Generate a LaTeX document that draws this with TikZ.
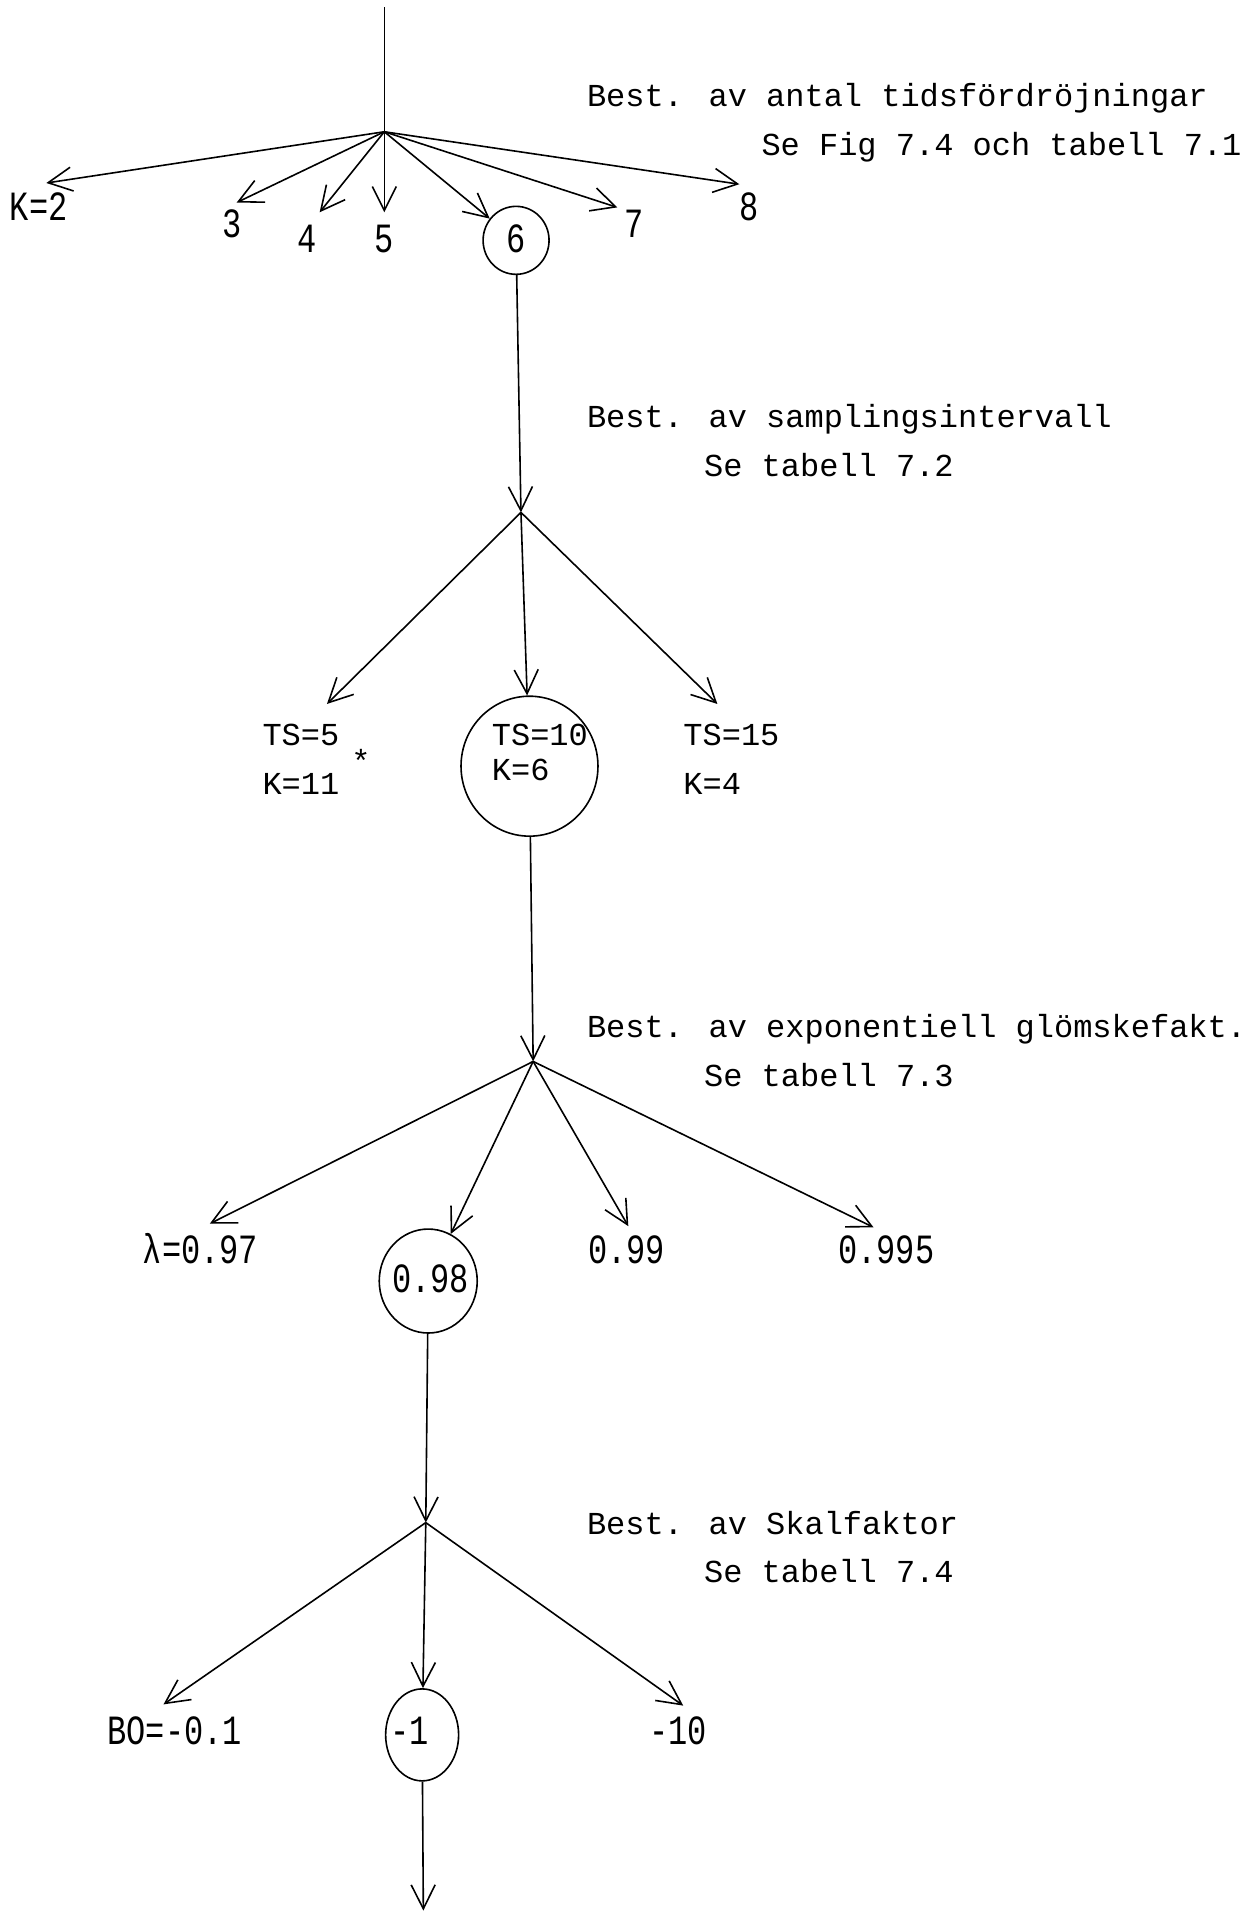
\documentclass[tikz,border=0pt]{standalone}
\usepackage{fontspec}
\usepackage{graphicx}
\newfontfamily\tw{Liberation Mono}
\newcommand\lab{\tw\fontsize{32}{38}\selectfont}
\newcommand\tl[1]{\scalebox{1}[1.3]{#1}}
\usetikzlibrary{arrows.meta,shapes.geometric}
\begin{document}
\begin{tikzpicture}[x=1.2204pt,y=-1.2204pt,
  lbl/.style={font=\lab, inner sep=0pt, anchor=west, text height=18pt, text depth=0pt},
  tlbl/.style={font=\lab, inner sep=0pt, anchor=west, text height=23.8pt, text depth=0pt},
  arr/.style={-{Straight Barb[length=24pt,width=24pt,line width=1.6pt]}, line width=1.6pt},
  wire/.style={line width=1.6pt},
  ring/.style={draw, ellipse, line width=1.6pt, inner sep=0pt}]
\useasboundingbox[fill=white] (0,0) rectangle (1021,1568);

% ---------- level 1 ----------
\coordinate (top) at (315,6);
\coordinate (h1) at (315,108);
\node[ring, minimum width=66pt, minimum height=68pt] (c6) at (423,197) {};
\node[tlbl, anchor=center] (n6) at (423,197) {\tl{6}};
\coordinate (a2) at (38,150);
\coordinate (a3) at (194,166);
\coordinate (a4) at (262,174);
\coordinate (a5) at (315,174);
\coordinate (a7) at (506,170);
\coordinate (a8) at (606,151);
\node[tlbl] (tK2) at (8,171) {\tl{K=2}};
\node[tlbl, anchor=center] (t3) at (190,185) {\tl{3}};
\node[tlbl, anchor=center] (t4) at (252,197) {\tl{4}};
\node[tlbl, anchor=center] (t5) at (315,197) {\tl{5}};
\node[tlbl, anchor=center] (t7) at (520,185) {\tl{7}};
\node[tlbl, anchor=center] (t8) at (614,171) {\tl{8}};
\node[lbl] (b1) at (481,80) {Best. av antal tidsfördröjningar};
\node[lbl] (s1) at (624,120) {Se Fig 7.4 och tabell 7.1};
\draw[wire] (top) -- (h1);
\foreach \t in {a2,a3,a4,a5,a7,a8} \draw[arr] (h1) -- (\t);
\draw[arr] (h1) -- (c6);

% ---------- level 2 ----------
\coordinate (h2) at (427,420);
\node[ring, minimum width=137pt, minimum height=140pt] (c10) at (434,628) {};
\node[lbl] (n10a) at (403,604) {TS=10};
\node[lbl] (n10b) at (403,632) {K=6};
\coordinate (b5) at (268,577);
\coordinate (b15) at (588,577);
\node[lbl] (ts5) at (215,604) {TS=5};
\node[lbl] (k11) at (215,644) {K=11\hspace{12pt}\raisebox{22pt}{*}};
\node[lbl] (ts15) at (560,604) {TS=15};
\node[lbl] (k4) at (560,644) {K=4};
\node[lbl] (b2) at (481,343) {Best. av samplingsintervall};
\node[lbl] (s2) at (577,383) {Se tabell 7.2};
\draw[arr] (c6) -- (h2);
\draw[arr] (h2) -- (b5);
\draw[arr] (h2) -- (b15);
\draw[arr] (h2) -- (c10);

% ---------- level 3 ----------
\coordinate (h3) at (437,870);
\node[ring, minimum width=98pt, minimum height=104pt] (c98) at (351,1050) {};
\node[tlbl, anchor=center] (n98) at (353,1050) {\tl{0.98}};
\coordinate (d97) at (172,1003);
\coordinate (d99) at (515,1005);
\coordinate (d995) at (716,1006);
\node[tlbl] (l97) at (117,1026) {\tl{λ=0.97}};
\node[tlbl] (l99) at (482,1026) {\tl{0.99}};
\node[tlbl] (l995) at (687,1026) {\tl{0.995}};
\node[lbl] (b3) at (481,843) {Best. av exponentiell glömskefakt.};
\node[lbl] (s3) at (577,883) {Se tabell 7.3};
\draw[arr] (c10) -- (h3);
\draw[arr] (h3) -- (d97);
\draw[arr] (h3) -- (d99);
\draw[arr] (h3) -- (d995);
\draw[arr] (h3) -- (c98);

% ---------- level 4 ----------
\coordinate (h4) at (349,1248);
\node[ring, minimum width=73pt, minimum height=92pt] (c1) at (346,1422) {};
\node[tlbl, anchor=center] (n1) at (336,1420) {\tl{-1}};
\coordinate (eBO) at (134,1397);
\coordinate (e10) at (560,1398);
\node[tlbl] (lBO) at (88,1420) {\tl{BO=-0.1}};
\node[tlbl] (l10) at (532,1420) {\tl{-10}};
\node[lbl] (b4) at (481,1250) {Best. av Skalfaktor};
\node[lbl] (s4) at (577,1290) {Se tabell 7.4};
\draw[arr] (c98) -- (h4);
\draw[arr] (h4) -- (eBO);
\draw[arr] (h4) -- (e10);
\draw[arr] (h4) -- (c1);
\coordinate (bot) at (347,1566);
\draw[arr] (c1) -- (bot);
\end{tikzpicture}
\end{document}
